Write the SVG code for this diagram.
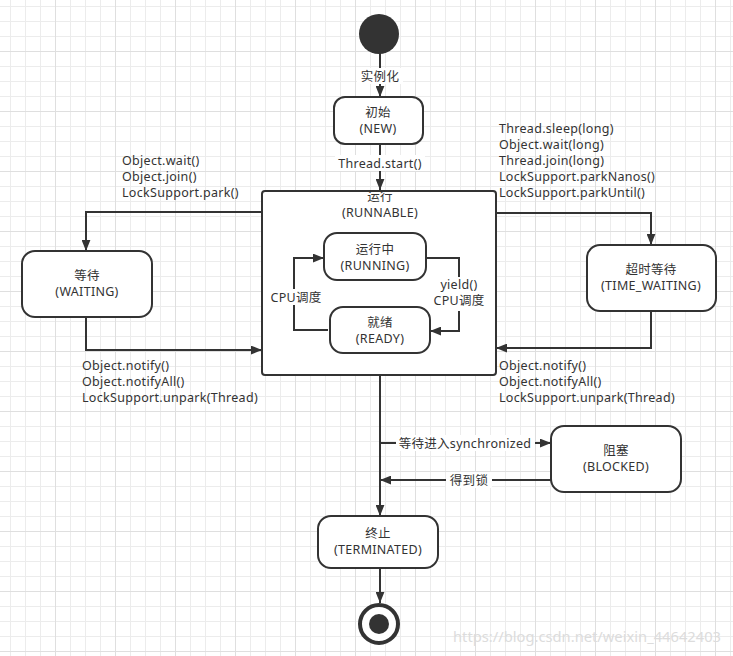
<svg xmlns="http://www.w3.org/2000/svg" width="733" height="656" viewBox="0 0 733 656">
<defs>
<pattern id="minor" x="10" y="6" width="15" height="15" patternUnits="userSpaceOnUse">
<path d="M0.5,0 V15 M0,0.5 H15" fill="none" stroke="#ececec" stroke-width="1"/>
</pattern>
<pattern id="major" x="55" y="51" width="60" height="60" patternUnits="userSpaceOnUse">
<path d="M0.5,0 V60 M0,0.5 H60" fill="none" stroke="#dfdfdf" stroke-width="1"/>
</pattern>
<marker id="arr" viewBox="0 0 10 8" refX="10" refY="4" markerWidth="11" markerHeight="9" markerUnits="userSpaceOnUse" orient="auto">
<path d="M0,0 L10,4 L0,8 z" fill="#333"/>
</marker>
</defs>
<style>
text{font-family:"Noto Sans","Noto Sans CJK SC",sans-serif;font-size:12.5px;letter-spacing:0.3px;fill:#333;}
.c{text-anchor:middle;}
.box{fill:#fff;stroke:#333;stroke-width:2;}
.ln{fill:none;stroke:#333;stroke-width:2;}
.bg{fill:#fff;}
.wm{font-size:15px;letter-spacing:0;fill:#dcdcdc;}
</style>
<rect width="733" height="656" fill="#fff"/>
<rect width="733" height="656" fill="url(#minor)"/>
<rect width="733" height="656" fill="url(#major)"/>

<g id="connectors">
<path class="ln" d="M380,53 V97" marker-end="url(#arr)"/>
<path class="ln" d="M380,144 V190" marker-end="url(#arr)"/>
<path class="ln" d="M262,212 H86 V251" marker-end="url(#arr)"/>
<path class="ln" d="M86,317 V350 H262" marker-end="url(#arr)"/>
<path class="ln" d="M496,213 H651 V245" marker-end="url(#arr)"/>
<path class="ln" d="M651,311 V348 H496" marker-end="url(#arr)"/>
<path class="ln" d="M380,375 V516" marker-end="url(#arr)"/>
<path class="ln" d="M380,443 H551" marker-end="url(#arr)"/>
<path class="ln" d="M551,480 H380" marker-end="url(#arr)"/>
<path class="ln" d="M380,568 V603" marker-end="url(#arr)"/>
<rect class="bg" x="357" y="68" width="46" height="16"/>
<text class="c" x="380" y="81">实例化</text>
<rect class="bg" x="335" y="155" width="90" height="16"/>
<text class="c" x="380" y="168">Thread.start()</text>
<text x="122" y="165">Object.wait()</text>
<text x="122" y="181">Object.join()</text>
<text x="122" y="197">LockSupport.park()</text>
<text x="82" y="370">Object.notify()</text>
<text x="82" y="386">Object.notifyAll()</text>
<text x="82" y="402">LockSupport.unpark(Thread)</text>
<text x="499" y="133">Thread.sleep(long)</text>
<text x="499" y="149">Object.wait(long)</text>
<text x="499" y="165">Thread.join(long)</text>
<text x="499" y="181">LockSupport.parkNanos()</text>
<text x="499" y="197">LockSupport.parkUntil()</text>
<text x="499" y="370">Object.notify()</text>
<text x="499" y="386">Object.notifyAll()</text>
<text x="499" y="402">LockSupport.unpark(Thread)</text>
<rect class="bg" x="396" y="435" width="139" height="16"/>
<text class="c" x="465" y="448">等待进入synchronized</text>
<rect class="bg" x="446" y="472" width="46" height="16"/>
<text class="c" x="469" y="485">得到锁</text>
</g>

<g id="start">
<circle cx="379" cy="34" r="20" fill="#333"/>
</g>

<g id="new">
<rect class="box" x="334" y="97" width="89" height="47" rx="11"/>
<text class="c" x="378" y="117">初始</text>
<text class="c" x="378" y="133">(NEW)</text>
</g>

<g id="runnable">
<rect class="box" x="262" y="191" width="234" height="184" rx="3"/>
<text class="c" x="380" y="201">运行</text>
<text class="c" x="380" y="217">(RUNNABLE)</text>
</g>

<g id="inner-connectors">
<path class="ln" d="M328,330 H294 V258 H324" marker-end="url(#arr)"/>
<path class="ln" d="M426,258 H459 V331 H430" marker-end="url(#arr)"/>
<rect class="bg" x="267" y="289" width="58" height="16"/>
<text class="c" x="296" y="302">CPU调度</text>
<rect class="bg" x="431" y="277" width="58" height="34"/>
<text class="c" x="459" y="289">yield()</text>
<text class="c" x="459" y="305">CPU调度</text>
</g>

<g id="running">
<rect class="box" x="324" y="233" width="102" height="47" rx="13"/>
<text class="c" x="375" y="254">运行中</text>
<text class="c" x="375" y="270">(RUNNING)</text>
</g>

<g id="ready">
<rect class="box" x="330" y="307" width="100" height="46" rx="13"/>
<text class="c" x="380" y="327">就绪</text>
<text class="c" x="380" y="343">(READY)</text>
</g>

<g id="waiting">
<rect class="box" x="22" y="251" width="130" height="66" rx="13"/>
<text class="c" x="87" y="280">等待</text>
<text class="c" x="87" y="296">(WAITING)</text>
</g>

<g id="time-waiting">
<rect class="box" x="587" y="245" width="129" height="66" rx="13"/>
<text class="c" x="651" y="274">超时等待</text>
<text class="c" x="651" y="290">(TIME_WAITING)</text>
</g>

<g id="blocked">
<rect class="box" x="551" y="426" width="130" height="66" rx="13"/>
<text class="c" x="616" y="455">阻塞</text>
<text class="c" x="616" y="471">(BLOCKED)</text>
</g>

<g id="terminated">
<rect class="box" x="318" y="516" width="120" height="52" rx="13"/>
<text class="c" x="378" y="538">终止</text>
<text class="c" x="378" y="554">(TERMINATED)</text>
</g>

<g id="end">
<circle cx="379" cy="624" r="19" fill="#fff" stroke="#333" stroke-width="4"/>
<circle cx="379" cy="624" r="10" fill="#333"/>
</g>

<text class="wm" x="453" y="642" textLength="268" lengthAdjust="spacingAndGlyphs">https://blog.csdn.net/weixin_44642403</text>
</svg>
